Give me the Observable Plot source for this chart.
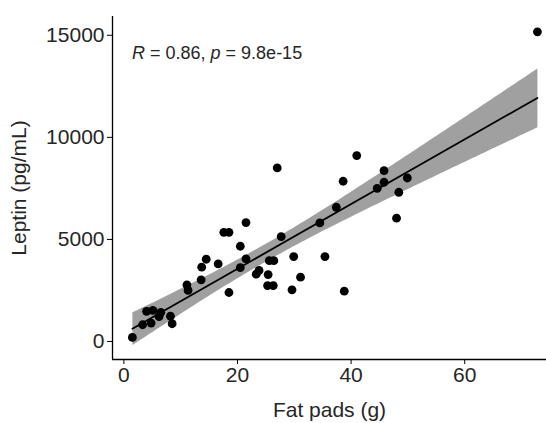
<!DOCTYPE html>
<html><head><meta charset="utf-8">
<script src="https://cdn.jsdelivr.net/npm/d3@7"></script>
<script src="https://cdn.jsdelivr.net/npm/@observablehq/plot@0.6"></script>
<style>body{margin:0;background:#fff;} svg{font-family:"Liberation Sans",Arial,sans-serif;}</style>
</head><body><div id="chart"></div>
<script>
const fatPads = [1.5, 3.3, 4.8, 4.0, 5.1, 6.5, 6.2, 8.2, 8.5,
  27.0, 21.5, 17.6, 18.5, 27.7, 20.5, 14.5, 13.7, 16.6, 21.5, 20.5, 25.6, 26.4, 29.9,
  23.8, 23.3, 25.4, 31.1, 13.6, 11.1, 11.3, 25.3, 26.3, 18.5, 29.6,
  41.0, 38.6, 45.8, 45.8, 44.6, 49.9, 48.4, 48.0, 37.4, 34.5, 35.4, 38.8, 72.8];
const leptin = [200, 820, 900, 1480, 1520, 1430, 1220, 1240, 870,
  8500, 5825, 5350, 5350, 5140, 4665, 4030, 3640, 3800, 4045, 3620, 3960, 3960, 4160,
  3480, 3300, 3280, 3150, 3020, 2775, 2500, 2740, 2740, 2400, 2530,
  9105, 7850, 8370, 7800, 7505, 8010, 7310, 6040, 6575, 5810, 4160, 2465, 15170];
const xTicks = [0, 20, 40, 60];
const yTicks = [0, 5000, 10000, 15000];
const xDomain = [-2.0, 74.4];
const yDomain = [-882, 15920];
const statParts = [["R", true], [" = 0.86, ", false], ["p", true], [" = 9.8e-15", false]];
const xLabel = "Fat pads (g)";
const yLabel = "Leptin (pg/mL)";

const data = fatPads.map((x, i) => ({x, y: leptin[i]}));
const ink = "#262626";
const chart = Plot.plot({
  width: 546, height: 423,
  marginLeft: 112, marginRight: 0, marginTop: 16, marginBottom: 64,
  style: {fontFamily: "Liberation Sans, Arial, sans-serif", fontSize: "21px", color: ink, background: "white"},
  x: {domain: xDomain},
  y: {domain: yDomain},
  marks: [
    Plot.linearRegressionY(data, {x: "x", y: "y", stroke: "black", strokeWidth: 1.8, fill: "#a0a0a0", fillOpacity: 1, ci: 0.95}),
    Plot.dot(data, {x: "x", y: "y", r: 4.4, fill: "black", stroke: null}),
    Plot.ruleX([xDomain[0]], {stroke: "black", strokeWidth: 1.3}),
    Plot.ruleY([yDomain[0]], {stroke: "black", strokeWidth: 1.3}),
    Plot.axisX({ticks: xTicks, tickFormat: d => String(d), tickSize: 5, tickPadding: 3, fontSize: 21, stroke: "black", label: xLabel, labelAnchor: "center", labelArrow: "none", labelOffset: 57}),
    Plot.axisY({ticks: yTicks, tickFormat: d => String(d), tickSize: 5, tickPadding: 3, fontSize: 21, stroke: "black", label: yLabel, labelAnchor: "center", labelArrow: "none", labelOffset: 101}),
    Plot.text([statParts.map(d => d[0]).join("")], {frameAnchor: "top-left", dx: 19.5, dy: 30, textAnchor: "start", fontSize: 18, fill: ink, className: "stat"})
  ]
});
document.getElementById("chart").appendChild(chart);
const t = d3.select(chart).select("g.stat text");
t.text(null);
statParts.forEach(([s, it]) => t.append("tspan").attr("font-style", it ? "italic" : null).text(s));
</script>
</body></html>
